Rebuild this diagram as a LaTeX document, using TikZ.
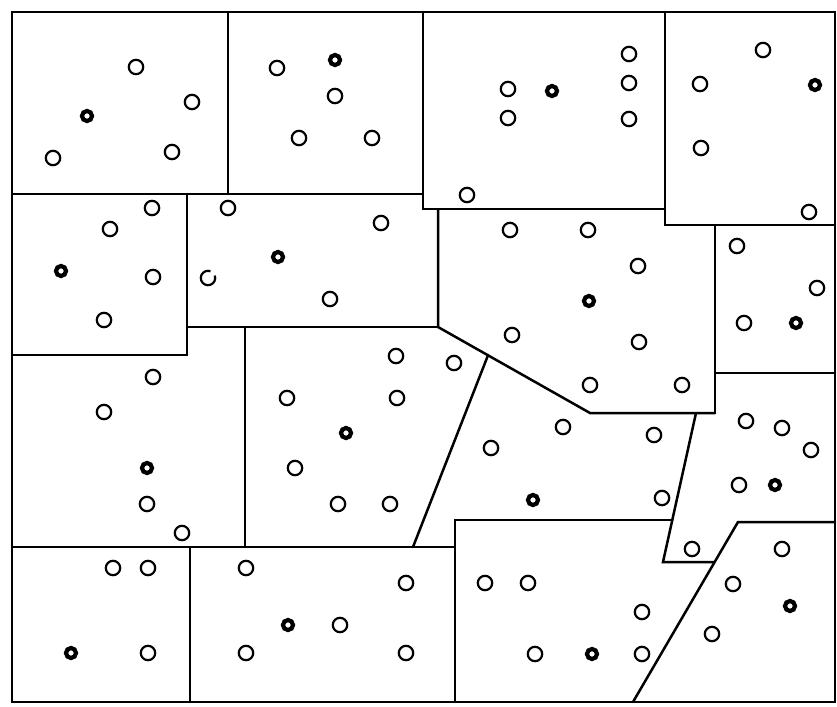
\documentclass[tikz,border=0pt]{standalone}
\begin{document}
\begin{tikzpicture}[x=0.5pt,y=-0.5pt,
  wall/.style={line width=1.25pt,line cap=round,line join=miter},
  opn/.style={line width=1.1pt},
  fil/.style={line width=2.1pt}]
\useasboundingbox (0,0) rectangle (837,707);
% outer frame
\draw[wall] (12,12) rectangle (835,702);
% partition lines
\draw[wall] (228,12) -- (228,194);
\draw[wall] (12,194) -- (423,194);
\draw[wall] (423,12) -- (423,209) -- (665,209);
\draw[wall] (665,12) -- (665,225) -- (835,225);
\draw[wall] (187,194) -- (187,355);
\draw[wall] (12,355) -- (187,355);
\draw[wall] (187,327) -- (438,327);
\draw[wall] (438,209) -- (438,327) -- (590,413) -- (715,413);
\draw[wall] (715,225) -- (715,413);
\draw[wall] (715,373) -- (835,373);
\draw[wall] (245,327) -- (245,547);
\draw[wall] (488,355.3) -- (413,547);
\draw[wall] (696,413) -- (663,562) -- (713.5,562);
\draw[wall] (455,702) -- (455,520) -- (672.3,520);
\draw[wall] (835,522) -- (738,522) -- (633,702);
\draw[wall] (12,547) -- (455,547);
\draw[wall] (190,547) -- (190,702);
% open circles
\foreach \x/\y in {136/67,192/102,53/158,172/152,277/68,335/96,299/138,372/138,
  152/208,110/229,153/277,104/320,228/208,381/223,330/299,
  629/54,629/83,629/119,508/89,508/118,467/195,763/50,700/84,701/148,809/212,
  510/230,588/230,638/266,512/335,639/342,737/246,817/288,744/323,
  396/356,287/398,397/398,295/468,338/504,390/504,153/377,104/412,147/504,182/533,
  113/568,148/568,148/653,246/568,406/583,340/625,246/653,406/653,
  454/363,590/385,682/385,563/427,654/435,491/448,662/498,746/421,782/428,811/450,
  739/485,692/549,782/549,733/584,712/634,485/583,528/583,642/612,535/654,642/654}
  \draw[opn] (\x,\y) circle[radius=3.6pt];
% broken circle
\draw[opn] (208,278) ++(20:3.6pt) arc[start angle=20,end angle=-290,radius=3.6pt];
% filled markers
\foreach \x/\y in {87/116,335/60,61/271,278/257,552/91,815/85,589/301,796/323,
  346/433,147/468,71/653,288/625,533/500,775/485,790/606,592/654}
  \draw[fil] (\x,\y) circle[radius=2.5pt];
\end{tikzpicture}
\end{document}
